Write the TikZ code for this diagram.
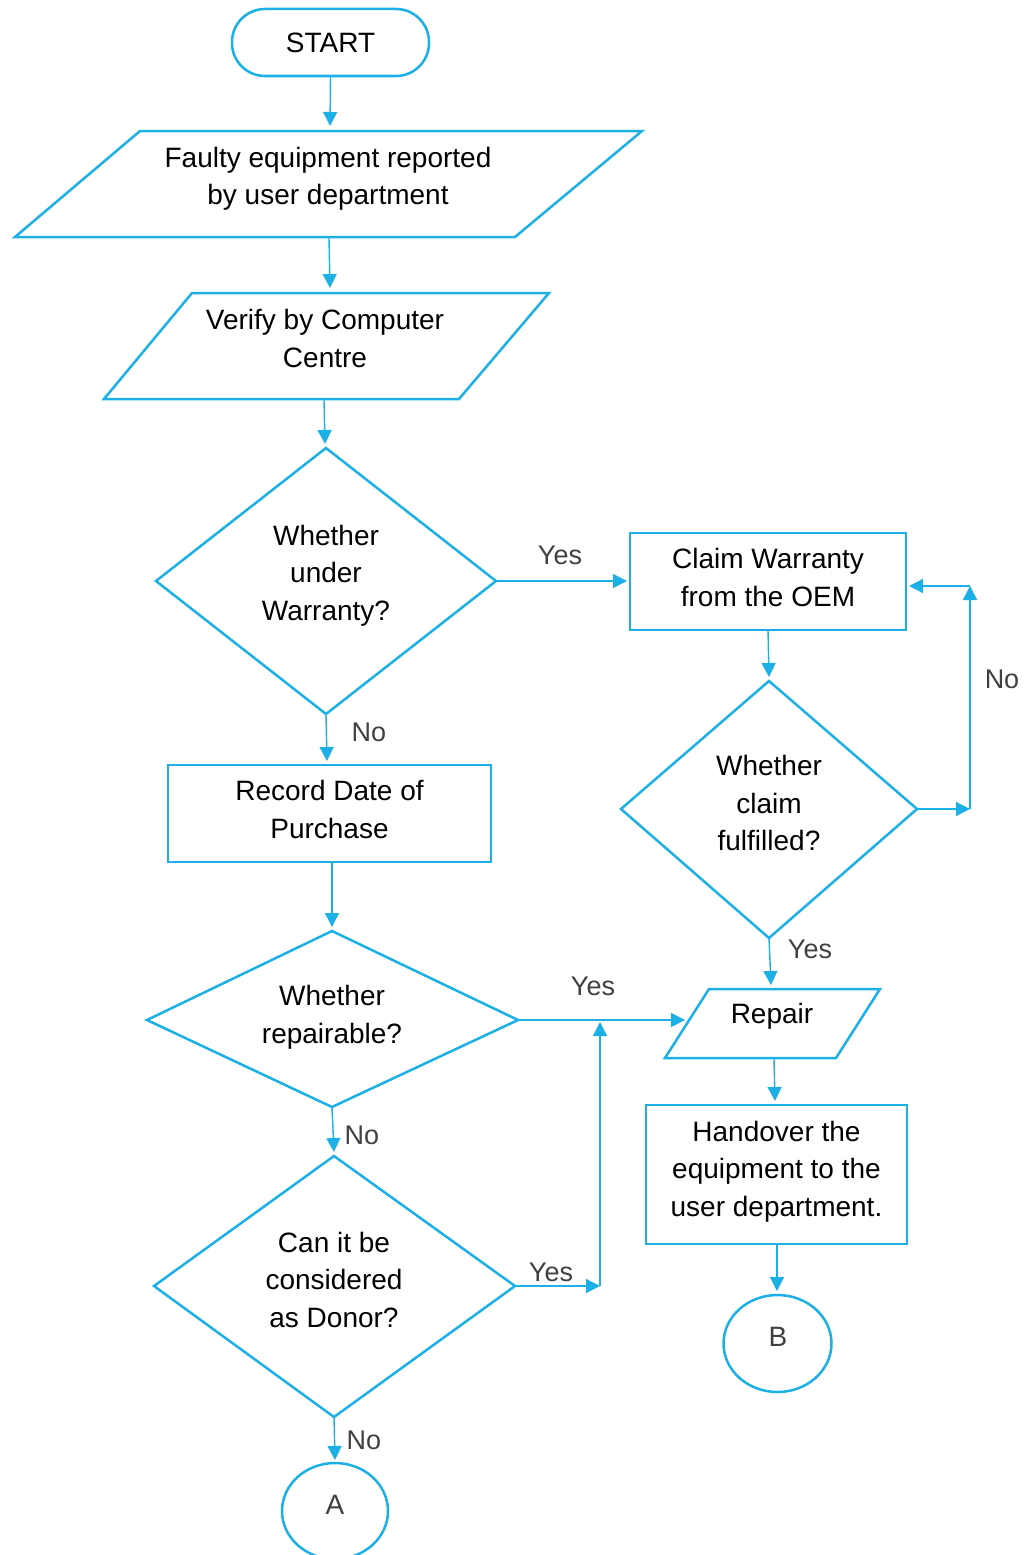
\documentclass[tikz,border=0pt]{standalone}
\usepackage{fontspec}
\setmainfont{Liberation Sans}
\usetikzlibrary{arrows.meta}
\definecolor{fcblue}{HTML}{1DB0E6}
\definecolor{lblgray}{HTML}{404040}
\tikzset{
  shapeline/.style={draw=fcblue, line width=2.5pt, line join=miter},
  boxnode/.style={shapeline, inner sep=0pt, outer sep=0pt},
  conn/.style={draw=fcblue, line width=1.4pt, -{Triangle[length=14pt,width=14pt]}},
  txt/.style={font=\fontsize{28}{37.5}\selectfont, align=center, inner sep=0pt, text=black},
  lbl/.style={font=\fontsize{27}{30}\selectfont, text=lblgray, inner sep=0pt, anchor=base},
}
\begin{document}
\begin{tikzpicture}[x=1pt,y=-1pt]
\useasboundingbox (0,0) rectangle (1031,1555);

% ---------- START ----------
\node[boxnode, rounded corners=33pt, minimum width=197pt, minimum height=67pt] (start) at (330.5,42.5) {};
\node[txt] (starttxt) at (330.5,42.5) {START};

% ---------- Parallelogram 1 ----------
\coordinate (p1tl) at (140,131); \coordinate (p1tr) at (642,131);
\coordinate (p1br) at (515,237); \coordinate (p1bl) at (15,237);
\draw[shapeline] (p1tl) -- (p1tr) -- (p1br) -- (p1bl) -- cycle;
\node[txt] (p1) at (328,179) {Faulty equipment reported\\by user department};
\coordinate (p1top) at (330,126);
\coordinate (p1bot) at (329,238);

% ---------- Parallelogram 2 ----------
\coordinate (p2tl) at (192,293); \coordinate (p2tr) at (549,293);
\coordinate (p2br) at (459,399); \coordinate (p2bl) at (104,399);
\draw[shapeline] (p2tl) -- (p2tr) -- (p2br) -- (p2bl) -- cycle;
\node[txt] (p2) at (325,338.5) {Verify by Computer\\Centre};
\coordinate (p2top) at (330,288);
\coordinate (p2bot) at (324,400);

% ---------- Diamond 1 ----------
\coordinate (d1t) at (326,448); \coordinate (d1r) at (496,581);
\coordinate (d1b) at (326,714); \coordinate (d1l) at (156,581);
\draw[shapeline] (d1t) -- (d1r) -- (d1b) -- (d1l) -- cycle;
\node[txt] (d1) at (326,575.5) {Whether\\under\\Warranty?};
\coordinate (d1tin) at (325,444);

% ---------- Claim box ----------
\node[boxnode, minimum width=276pt, minimum height=97pt] (claim) at (768,581.5) {};
\node[txt] (claimtxt) at (768,577.5) {Claim Warranty\\from the OEM};
\coordinate (claimin) at (627,581);
\coordinate (claimrin) at (909,586);

% ---------- Diamond 2 ----------
\coordinate (d2t) at (769,681); \coordinate (d2r) at (917,809);
\coordinate (d2b) at (769,938); \coordinate (d2l) at (621,809);
\draw[shapeline] (d2t) -- (d2r) -- (d2b) -- (d2l) -- cycle;
\node[txt] (d2) at (769,803) {Whether\\claim\\fulfilled?};
\coordinate (d2tin) at (769,677);
\coordinate (nocorner1) at (970,809);
\coordinate (nocorner2) at (970,586);

% ---------- Repair ----------
\coordinate (rtl) at (709,989); \coordinate (rtr) at (880,989);
\coordinate (rbr) at (836,1058); \coordinate (rbl) at (665,1058);
\draw[shapeline] (rtl) -- (rtr) -- (rbr) -- (rbl) -- cycle;
\node[txt] (repair) at (772,1016.5) {Repair};
\coordinate (rtop) at (771,985);
\coordinate (rleft) at (685,1020);
\coordinate (rbot) at (774,1059);

% ---------- Handover ----------
\node[boxnode, minimum width=261pt, minimum height=139pt] (hand) at (776.5,1174.5) {};
\node[txt] (handtxt) at (776.5,1171.5) {Handover the\\equipment to the\\user department.};
\coordinate (handtop) at (775,1101);
\coordinate (handbot) at (777,1245);

% ---------- B ----------
\draw[shapeline] (777.5,1343.5) ellipse [x radius=54, y radius=48.5];
\node[txt, text=lblgray] (btxt) at (778,1337) {B};
\coordinate (btop) at (777,1291);

% ---------- Record box ----------
\node[boxnode, minimum width=323pt, minimum height=97pt] (rec) at (329.5,813.5) {};
\node[txt] (rectxt) at (329.5,809.5) {Record Date of\\Purchase};
\coordinate (rectop) at (327,761);
\coordinate (recbot) at (332,863);

% ---------- Diamond 3 ----------
\coordinate (d3t) at (332,931); \coordinate (d3r) at (518,1020);
\coordinate (d3b) at (332,1107); \coordinate (d3l) at (147,1020);
\draw[shapeline] (d3t) -- (d3r) -- (d3b) -- (d3l) -- cycle;
\node[txt] (d3) at (332,1017) {Whether\\repairable?};
\coordinate (d3tin) at (332,927);
\coordinate (joinpt) at (600,1022);
\coordinate (joinbot) at (600,1286);

% ---------- Diamond 4 ----------
\coordinate (d4t) at (334,1156); \coordinate (d4r) at (515,1286);
\coordinate (d4b) at (334,1417); \coordinate (d4l) at (154,1286);
\draw[shapeline] (d4t) -- (d4r) -- (d4b) -- (d4l) -- cycle;
\node[txt] (d4) at (334,1279.5) {Can it be\\considered\\as Donor?};
\coordinate (d4tin) at (334,1152);

% ---------- A ----------
\draw[shapeline] (335,1511) ellipse [x radius=53, y radius=48];
\node[txt, text=lblgray] (atxt) at (335,1505) {A};
\coordinate (atop) at (335,1460);

% ---------- Connectors ----------
\draw[conn] (start.south) -- (p1top);
\draw[conn] (p1bot) -- (p2top);
\draw[conn] (p2bot) -- (d1tin);
\draw[conn] (d1r) -- (claimin);
\draw[conn] (claim.south) -- (d2tin);
\draw[conn] (d2r) -- (nocorner1);
\draw[conn] (nocorner1) -- (nocorner2);
\draw[conn] (nocorner2) -- (claimrin);
\draw[conn] (d2b) -- (rtop);
\draw[conn] (rbot) -- (handtop);
\draw[conn] (handbot) -- (btop);
\draw[conn] (d1b) -- (rectop);
\draw[conn] (recbot) -- (d3tin);
\draw[conn] (d3r) -- (rleft);
\draw[conn] (joinbot) -- (joinpt);
\draw[conn] (d3b) -- (d4tin);
\draw[conn] (d4r) -- (joinbot);
\draw[conn] (d4b) -- (atop);

% ---------- Labels ----------
\node[lbl] (l1) at (560,564) {Yes};
\node[lbl] (l2) at (1002,688) {No};
\node[lbl] (l3) at (810,958) {Yes};
\node[lbl] (l4) at (369,741) {No};
\node[lbl] (l5) at (593,995) {Yes};
\node[lbl] (l6) at (362,1144) {No};
\node[lbl] (l7) at (551,1281) {Yes};
\node[lbl] (l8) at (364,1449) {No};
\end{tikzpicture}
\end{document}
